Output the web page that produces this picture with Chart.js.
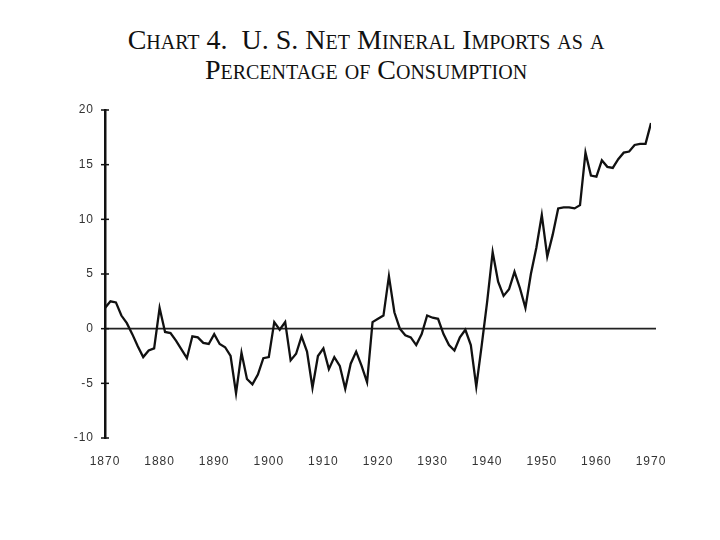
<!DOCTYPE html>
<html>
<head>
<meta charset="utf-8">
<script src="https://cdn.jsdelivr.net/npm/chart.js@4.4.1/dist/chart.umd.min.js"></script>
<style>
  html, body { margin: 0; padding: 0; background: #fff; }
  #wrap { position: relative; width: 720px; height: 540px; }
  #title {
    position: absolute; left: 0; top: 25px; width: 732px; text-align: center;
    font-family: "Liberation Serif", "Times New Roman", serif;
    font-variant: small-caps; font-size: 28px; line-height: 30px; color: #111;
  }
  canvas { position: absolute; left: 0; top: 0; }
</style>
</head>
<body>
<div id="wrap">
  <div id="title">Chart 4.&nbsp; U. S. Net Mineral Imports as a<br>Percentage of Consumption</div>
  <canvas id="c" width="720" height="540"></canvas>
</div>
<script>
const titleLines = ["Chart 4.  U. S. Net Mineral Imports as a", "Percentage of Consumption"];
const years = [];
for (let y = 1870; y <= 1970; y++) years.push(y);
const importsPct = [
  1.9, 2.5, 2.4, 1.2, 0.5, -0.5, -1.6, -2.6, -2.0, -1.8,
  1.9, -0.3, -0.4, -1.1, -1.9, -2.7, -0.7, -0.8, -1.3, -1.4,
  -0.5, -1.4, -1.7, -2.5, -5.9, -2.2, -4.6, -5.1, -4.2, -2.7,
  -2.6, 0.6, -0.1, 0.6, -2.9, -2.3, -0.7, -2.1, -5.4, -2.5,
  -1.8, -3.7, -2.6, -3.4, -5.5, -3.2, -2.1, -3.4, -4.9, 0.6,
  0.9, 1.2, 4.8, 1.5, 0.0, -0.6, -0.8, -1.5, -0.5, 1.2,
  1.0, 0.9, -0.5, -1.5, -2.0, -0.8, -0.1, -1.5, -5.3, -1.5,
  2.5, 7.0, 4.3, 3.0, 3.6, 5.2, 3.7, 1.9, 5.0, 7.4,
  10.4, 6.6, 8.6, 11.0, 11.1, 11.1, 11.0, 11.3, 16.1, 14.0,
  13.9, 15.4, 14.8, 14.7, 15.5, 16.1, 16.2, 16.8, 16.9, 16.9,
  18.8
];
const xTicks = [1870, 1880, 1890, 1900, 1910, 1920, 1930, 1940, 1950, 1960, 1970];
const yTicks = [-10, -5, 0, 5, 10, 15, 20];

const axisTicksPlugin = {
  id: 'axisTicks',
  beforeDraw(chart) {
    chart.ctx.letterSpacing = '1px';
  },
  beforeDatasetsDraw(chart) {
    const ctx = chart.ctx;
    const ys = chart.scales.y;
    const a = chart.chartArea;
    const py = ys.getPixelForValue(0);
    ctx.save();
    ctx.strokeStyle = '#222';
    ctx.lineWidth = 1.8;
    ctx.beginPath();
    ctx.moveTo(a.left, py);
    ctx.lineTo(a.right + 5, py);
    ctx.stroke();
    ctx.restore();
  },
  afterDraw(chart) {
    const ctx = chart.ctx;
    const ys = chart.scales.y;
    const x0 = chart.chartArea.left;
    ctx.save();
    ctx.strokeStyle = '#111';
    ctx.lineWidth = 1.5;
    yTicks.forEach(v => {
      const py = ys.getPixelForValue(v);
      ctx.beginPath();
      ctx.moveTo(x0 - 4, py);
      ctx.lineTo(x0 + 4, py);
      ctx.stroke();
    });
    ctx.restore();
  }
};

new Chart(document.getElementById('c'), {
  type: 'line',
  data: {
    datasets: [{
      data: years.map((y, i) => ({ x: y, y: importsPct[i] })),
      borderColor: '#111',
      borderWidth: 2.3,
      pointRadius: 0,
      tension: 0,
      fill: false
    }]
  },
  options: {
    responsive: false,
    animation: false,
    layout: { padding: { left: 0, right: 69, top: 110, bottom: 0 } },
    plugins: { legend: { display: false }, tooltip: { enabled: false }, title: { display: false } },
    scales: {
      x: {
        type: 'linear', min: 1870, max: 1970,
        afterFit: s => { s.height = 102; },
        afterBuildTicks: s => { s.ticks = xTicks.map(v => ({ value: v })); },
        border: { display: false },
        grid: { display: false, drawTicks: false },
        ticks: {
          padding: 16, color: '#333', maxRotation: 0, autoSkip: false,
          font: { family: 'Liberation Sans, Arial, sans-serif', size: 12 },
          callback: v => String(v)
        }
      },
      y: {
        min: -10, max: 20,
        afterFit: s => { s.width = 105; },
        afterBuildTicks: s => { s.ticks = yTicks.map(v => ({ value: v })); },
        border: { display: true, color: '#111', width: 2.5 },
        grid: { display: false, drawTicks: false },
        ticks: {
          padding: 11, color: '#333',
          font: { family: 'Liberation Sans, Arial, sans-serif', size: 12 },
          callback: v => String(v)
        }
      }
    }
  },
  plugins: [axisTicksPlugin]
});
</script>
</body>
</html>
